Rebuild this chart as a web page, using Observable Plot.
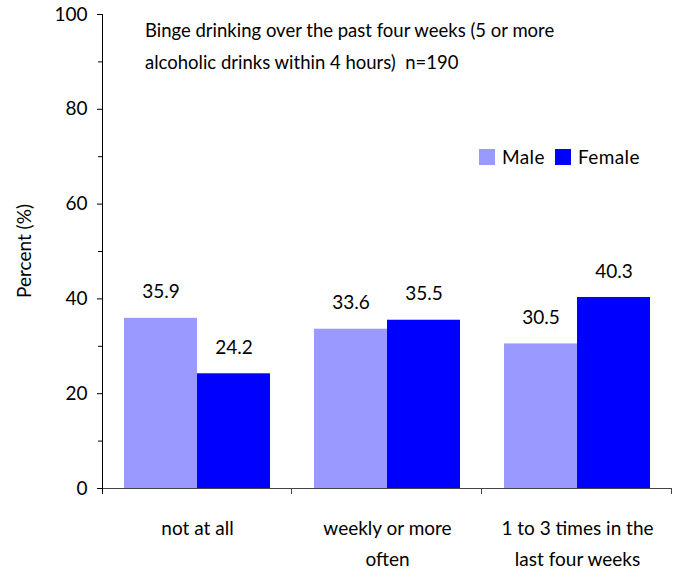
<!DOCTYPE html>
<html>
<head>
<meta charset="utf-8">
<script src="https://cdn.jsdelivr.net/npm/d3@7"></script>
<script src="https://cdn.jsdelivr.net/npm/@observablehq/plot@0.6"></script>
<style>
  html, body { margin: 0; padding: 0; background: #fff; }
  #wrap { position: relative; width: 678px; height: 581px; font-family: Lato, "Open Sans", sans-serif; color: #000; }
  #title { position: absolute; left: 145px; top: 14px; font-size: 18.5px; line-height: 32px; white-space: pre; }
  #legend { position: absolute; left: 479px; top: 145px; font-size: 19px; letter-spacing: 0.4px; display: flex; align-items: center; white-space: nowrap; }
  .sw { display: inline-block; width: 16px; height: 16px; margin-right: 7px; }
</style>
</head>
<body>
<div id="wrap"></div>
<script>
const categories = ["not at all", "weekly or more often", "1 to 3 times in the last four weeks"];
const categoryLabels = ["not at all", "weekly or more\noften", "1 to 3 times in the\nlast four weeks"];
const sexes = ["Male", "Female"];
const colors = ["#9999FF", "#0000FF"];
const maleValues = [35.9, 33.6, 30.5];
const femaleValues = [24.2, 35.5, 40.3];
const majorTicks = [0, 20, 40, 60, 80, 100];
const minorTicks = [10, 30, 50, 70, 90];
const yLabel = "Percent (%)";
const titleLines = ["Binge drinking over the past four weeks (5 or more", "alcoholic drinks within 4 hours)  n=190"];

const data = categories.flatMap((c, i) => [
  {category: c, sex: "Male", value: maleValues[i]},
  {category: c, sex: "Female", value: femaleValues[i]}
]);

const font = "Lato, 'Open Sans', sans-serif";
const plot = Plot.plot({
  width: 678,
  height: 581,
  marginLeft: 101,
  marginRight: 6,
  marginTop: 14,
  marginBottom: 93,
  style: {fontFamily: font, fontSize: "19px", color: "#000", background: "#fff"},
  fx: {domain: categories, padding: 0, label: null},
  x: {domain: sexes, paddingInner: 0, paddingOuter: 0.3, axis: null},
  y: {domain: [0, 100]},
  color: {domain: sexes, range: colors},
  marks: [
    Plot.barY(data, {fx: "category", x: "sex", y: "value", fill: "sex"}),
    Plot.text(data, {fx: "category", x: "sex", y: "value", text: d => d.value.toFixed(1), dy: -26, fontSize: 19}),
    Plot.ruleY([0], {stroke: "#444"}),
    Plot.axisY({ticks: majorTicks, tickSize: 5, tickPadding: 10, fontSize: 19, label: null}),
    Plot.axisY({ticks: minorTicks, tickSize: 4, tickFormat: () => "", label: null}),
    Plot.axisFx({anchor: "bottom", tickSize: 0, tickPadding: 25, fontSize: 19, lineHeight: 1.62, label: null,
      tickFormat: d => categoryLabels[categories.indexOf(d)]})
  ]
});

const wrap = document.getElementById("wrap");
wrap.appendChild(plot);

// frame lines drawn from the plot's own scales
const svg = d3.select(plot);
const fx = plot.scale("fx");
const y = plot.scale("y");
const y0 = y.apply(0), y100 = y.apply(100);
const bounds = categories.map(c => fx.apply(c)).concat([fx.apply(categories[categories.length - 1]) + fx.bandwidth]);
const g = svg.append("g").attr("stroke", "#000").attr("stroke-width", 1);
g.append("line").attr("x1", bounds[0] + 0.5).attr("x2", bounds[0] + 0.5).attr("y1", y100).attr("y2", y0 + 6);
bounds.slice(1).forEach(b => {
  g.append("line").attr("x1", b - 0.5).attr("x2", b - 0.5).attr("y1", y0).attr("y2", y0 + 6).attr("stroke", "#444");
});
svg.append("text")
  .attr("transform", `translate(24,${(y0 + y100) / 2}) rotate(-90)`)
  .attr("text-anchor", "middle")
  .attr("dy", "0.35em")
  .attr("font-family", font)
  .attr("font-size", 19)
  .attr("fill", "#000")
  .text(yLabel);

const title = document.createElement("div");
title.id = "title";
title.textContent = titleLines.join("\n");
wrap.appendChild(title);

const legend = document.createElement("div");
legend.id = "legend";
sexes.forEach((s, i) => {
  const sw = document.createElement("span");
  sw.className = "sw";
  sw.style.background = colors[i];
  const t = document.createElement("span");
  t.textContent = s;
  t.style.marginRight = i === 0 ? "10px" : "0";
  legend.appendChild(sw);
  legend.appendChild(t);
});
wrap.appendChild(legend);
</script>
</body>
</html>
